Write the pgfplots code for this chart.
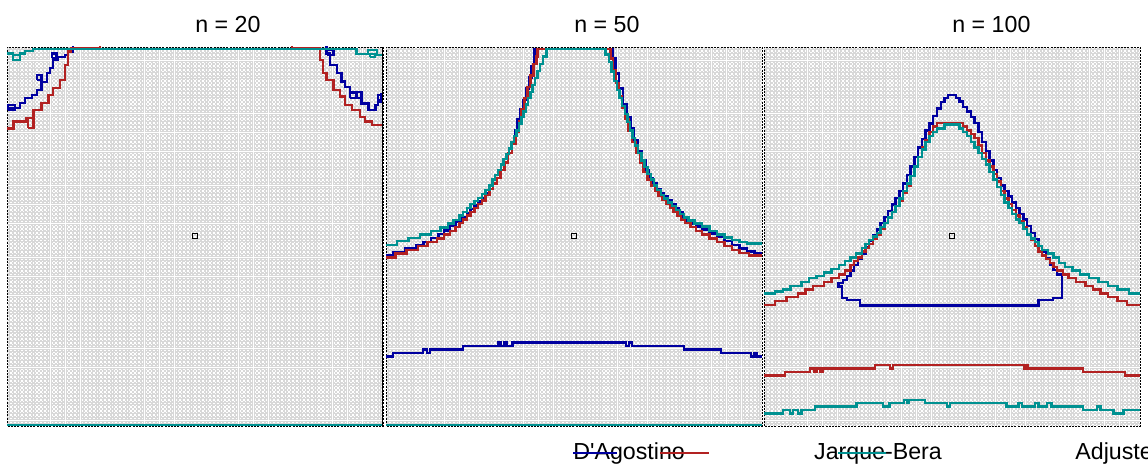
\documentclass[border=0pt]{standalone}
\usepackage{pgfplots}
\pgfplotsset{compat=1.18}
\usepackage{fontspec}
\setmainfont{Liberation Sans}

\definecolor{dagblue}{RGB}{0,0,160}
\definecolor{jbred}{RGB}{178,34,34}
\definecolor{ajbteal}{RGB}{0,145,145}
\definecolor{texgray}{RGB}{216,216,216}

\newcommand{\labfont}{\fontsize{11.6}{13.9}\selectfont}

\pgfplotsset{
  panel/.style={
    scale only axis, width=188pt, height=189.5pt,
    anchor=south west,
    xmin=0, xmax=100, ymin=0, ymax=100,
    % background texture: one small open square per grid cell
    xtick={0.35,1.35,...,99.35}, minor xtick={0.65,1.65,...,99.65},
    ytick={0.35,1.35,...,99.35}, minor ytick={0.65,1.65,...,99.65},
    xticklabels={}, yticklabels={},
    major tick length=0pt, minor tick length=0pt,
    tick style={draw=none},
    grid=both,
    major x grid style={texgray, line width=0.28pt, dash pattern=on 1.3265pt off 0.5685pt, dash phase=0.663pt},
    minor x grid style={texgray, line width=0.28pt, dash pattern=on 1.3265pt off 0.5685pt, dash phase=0.663pt},
    major y grid style={texgray, line width=0.28pt, dash pattern=on 1.316pt off 0.564pt, dash phase=0.658pt},
    minor y grid style={texgray, line width=0.28pt, dash pattern=on 1.316pt off 0.564pt, dash phase=0.658pt},
    axis line style={black, line width=0.45pt, dash pattern=on 1pt off 0.6pt},
    title style={at={(0.5,1)}, anchor=base west, inner sep=0pt, yshift=1pt, font=\labfont},
  },
  dag/.style={dagblue, line width=1.2pt, no marks},
  jb/.style={jbred, line width=1.2pt, no marks},
  ajb/.style={ajbteal, line width=1.2pt, no marks},
  ctr/.style={black, only marks, mark=square, mark size=1.25pt, line width=0.5pt},
}

\begin{document}
\begin{tikzpicture}
\useasboundingbox (0,0) rectangle (574pt,232.5pt);

% ---------------- n = 20 ----------------
\begin{axis}[panel, at={(3.5pt,19.5pt)}, title={n = 20}]
\addplot[dag, const plot] coordinates {(0,83.9) (3.5,85.2) (4.8,86.5) (6.6,87.3) (7.9,88.7) (9.2,90.8) (10.6,93.1) (11.4,94.5) (12.2,96.6) (13.6,97.4) (15.4,97.9) (16.2,98.7) (17.5,101)};
\addplot[dag, const plot] coordinates {(84,101) (85.0,98.3) (85.9,95.3) (87.7,93.1) (89.0,90.9) (89.9,89.5) (91.2,87.8) (93.0,86.5) (94.3,85.1) (96.1,83.4) (98.0,84.7) (98.7,86.0) (99.6,87.6) (100,87.6)};
\addplot[dag] coordinates {(11.9,97.1) (13.2,97.1) (13.2,98.3) (11.9,98.3) (11.9,97.1)};
\addplot[dag] coordinates {(7.9,91.3) (9.2,91.3) (9.2,92.6) (7.9,92.6) (7.9,91.3)};
\addplot[dag] coordinates {(0.3,83.4) (2.1,83.4) (2.1,84.7) (0.3,84.7) (0.3,83.4)};
\addplot[dag] coordinates {(85.0,97.9) (86.8,97.9) (86.8,99.2) (85.0,99.2) (85.0,97.9)};
\addplot[dag] coordinates {(91.2,86.5) (94.3,86.5) (94.3,88.2) (91.2,88.2) (91.2,86.5)};
\addplot[dag] coordinates {(98.7,85.6) (100,85.6) (100,87.3) (98.7,87.3) (98.7,85.6)};
\addplot[jb, const plot] coordinates {(0,78.5) (1.7,80.3) (5.2,81.2) (7.0,83.4) (9.2,85.2) (11.0,87.3) (12.3,89.2) (14.1,91.3) (15.4,95.3) (16.3,98.8) (17.0,99.7) (24.7,101)};
\addplot[jb, const plot] coordinates {(74,101) (75.8,99.7) (83.2,96.6) (84.1,93.1) (85.0,91.3) (86.8,88.7) (88.6,86.9) (89.9,84.7) (91.7,83.4) (93.9,81.6) (95.2,80.3) (97.0,79.4) (100,79.4)};
\addplot[jb] coordinates {(5.6,78.6) (7.0,78.6) (7.0,81.3) (5.6,81.3) (5.6,78.6)};
\addplot[ajb, const plot] coordinates {(0,98.3) (1.6,96.6) (3.5,98.3) (4.8,99.0) (6.9,99.4) (93.0,98.2) (96.0,99.2) (98.4,97.9) (100,97.9)};
\addplot[ajb] coordinates {(1.6,96.6) (3.5,96.6) (3.5,97.9) (1.6,97.9) (1.6,96.6)};
\addplot[ajb] coordinates {(96.5,97.3) (97.9,97.3) (97.9,98.2) (96.5,98.2) (96.5,97.3)};
\addplot[ajb] coordinates {(0,0.3) (100,0.3)};
\addplot[ctr] coordinates {(50,50)};
\draw[black, line width=0.5pt] (rel axis cs:1,0) -- (rel axis cs:1,1);
\end{axis}

% ---------------- n = 50 ----------------
\begin{axis}[panel, at={(193pt,19.5pt)}, title={n = 50}]
\addplot[dag, const plot] coordinates {
 (0,45.1) (2,45.8) (5,46.8) (8,47.8) (10,48.6) (12,49.6) (14,50.6) (15.5,51.6) (17,52.8) (18.5,54) (20,55)
 (21.5,56.2) (22.5,57.2) (23.5,58.2) (24.5,59.2) (25.5,60.2) (26.5,61.4) (27.5,62.5) (28.5,64) (29.5,65.5)
 (30.5,67.5) (31.5,69.5) (32.5,72) (33.5,75) (34.3,78) (35,81) (35.8,83.5) (36.5,86) (37.3,89) (38,92)
 (38.7,95) (39.3,97.5) (39.5,99.5)
 (60.3,97) (61,93) (62,89) (63,85) (64,81.5) (65,78.5) (66,75.5) (67,72.5) (68,70) (69,67.5) (70,65.5)
 (71,64) (72,62.5) (73,61.5) (74,60.5) (75,59.5) (76,58.5) (77,57.5) (78,56.3) (79,55.2) (80,54.2)
 (81,53.4) (82.5,52.6) (84,51.8) (86,50.8) (88,49.8) (90,48.8) (92,47.8) (94,46.8) (96,46) (98,45.6) (100,45.6)};
\addplot[dag, const plot] coordinates {
 (0,18.3) (1.9,19.3) (9.9,20.2) (10.9,19.3) (11.7,20.2) (20.5,21.1) (29.9,22.0) (30.6,21.1) (31.4,22.0)
 (32.0,21.1) (33.6,22.0) (63.8,21.1) (64.6,22.0) (65.4,21.1) (79.2,20.2) (89.1,19.3) (97.1,18.3)
 (98.0,19.3) (98.7,18.3) (100,18.3)};
\addplot[jb, const plot] coordinates {
 (0,44.5) (2.5,45.5) (5.5,46.5) (8.5,47.5) (11,48.5) (13.5,49.5) (15.5,50.5) (17,51.5) (18.5,52.5)
 (19.5,53.5) (20.5,54.5) (21.5,55.5) (22.5,56.5) (23.5,57.5) (24.5,58.5) (25.5,59.5) (26.5,61) (27.5,62.5)
 (28.5,64) (29.5,65.5) (30.5,67.5) (31.5,69.5) (32.5,72) (33.5,74.5) (34.5,77.5) (35.3,80.5) (36,83.5)
 (36.8,86.5) (37.6,89.5) (38.4,92.5) (39.2,95.5) (40,97.5) (40.3,99.5)
 (59.7,97) (60.4,94) (61.2,90.5) (62,87) (62.8,84) (63.6,81) (64.5,78) (65.5,75) (66.5,72) (67.5,69.5)
 (68.5,67) (69.5,65) (70.5,63.5) (71.5,62) (72.5,60.8) (73.5,59.6) (74.5,58.5) (75.5,57.5) (76.5,56.5)
 (77.5,55.5) (78.5,54.5) (79.5,53.5) (81,52.5) (82.5,51.5) (84,50.5) (86,49.5) (88,48.5) (90,47.5)
 (92,46.5) (94,45.7) (96.5,45) (100,45)};
\addplot[ajb, const plot] coordinates {
 (0,47.8) (3,48.8) (6,49.6) (9,50.5) (12,51.4) (14.5,52.4) (16.5,53.4) (18,54.4) (19.5,55.5) (20.5,56.5)
 (21.5,57.5) (22.5,58.5) (23.5,59.3) (24.5,60.2) (25.5,61.2) (26.5,62.2) (27.5,63.5) (28.3,65) (29,66.2)
 (29.8,67.5) (30.6,69) (31.3,70.5) (32,71.8) (32.7,73.2) (33.4,75) (34,76.5) (34.7,78) (35.3,79.8) (36,81.5)
 (36.6,83) (37.2,84.8) (37.8,86.5) (38.4,88.2) (39,90) (39.6,91.8) (40.3,93.7) (41,95.5) (41.7,97.5) (42.7,99.5)
 (58.4,98) (59.3,96) (60,93.5) (60.7,91) (61.4,88.7) (62.1,86.5) (62.8,84.5) (63.5,82.3) (64.2,80.2)
 (64.9,78) (65.6,76) (66.3,74) (67.1,72) (68,70) (68.8,68.3) (69.6,66.5) (70.4,65) (71.2,63.5) (72.1,62.2)
 (73.1,61) (74,60) (75,59) (76,58) (77.1,57) (78.2,56) (79.2,55) (80.5,54.2) (82,53.4) (84,52.6) (86,51.4)
 (88,50.5) (90,49.7) (92,49) (94,48.5) (96,48.1) (100,48)};
\addplot[ajb] coordinates {(0,0.3) (100,0.3)};
\addplot[ctr] coordinates {(50,50)};
\end{axis}

% ---------------- n = 100 ----------------
\begin{axis}[panel, at={(382pt,19.5pt)}, title={n = 100}]
\addplot[dag, const plot] coordinates {
 (20.2,37.7) (21,38.5) (22,39.5) (23,41) (24,42.5) (25,44) (26,45.5) (27,47.2) (28,48.8) (29,50.3) (30,51.8)
 (31,53.5) (32,55.2) (33,56.8) (34,58.4) (35,60.1) (36,62) (37,64) (38,66.2) (39,68.5) (40,71) (41,73.5)
 (42,75.8) (43,78) (44,79.8) (45,81.8) (46,83.8) (47,85.5) (48,86.5) (49,87.3) (51,86.5) (52,85.6) (53,84.2)
 (54,83) (55,81.5) (56,80) (57,77.5) (58,75) (59,72.5) (60,70) (61,67.5) (62,65.5) (63,63.5) (64,62)
 (65,60.5) (66,59) (67,57.5) (68,56) (69,54.5) (70,52.8) (71,51) (72,49.3) (73,47.5) (74,46) (75,44.3)
 (76,42.6) (77,41.2) (78,40) (79.2,39.5)};
\addplot[dag] coordinates {
 (79.2,39.5) (79.2,33.7) (76.9,33.7) (76.9,33.2) (73,33.2) (73,31.8) (25.5,31.8) (25.5,33.2) (22,33.2)
 (22,33.7) (20.7,33.7) (20.7,36.8) (19.8,36.8) (19.8,37.7) (20.2,37.7)};
\addplot[jb, const plot] coordinates {
 (0,32) (3,33) (6,34) (9,35) (11,36) (13,37) (16,38) (18,39) (20,40) (21.5,41) (23,42.5) (24,43.5)
 (25,44.5) (26,46) (27,47) (28,48) (29,49.5) (30,50.5) (31,52) (32,53.5) (33,55) (34,56.5) (35,58)
 (36,59.5) (37,61.5) (38,63.5) (39,66) (40,68.5) (41,71) (42,73.5) (43,75.5) (44,77.5) (45,79) (46,80)
 (53,79) (54,78) (55,77) (56,76) (57,74) (58,72) (59,70) (60,68.5) (61,66.5) (62,64.5) (63,62) (64,60)
 (65,58.5) (66,57) (67,55.5) (68,54) (69,52.5) (70,50.5) (71,49) (72,47.5) (73,46) (74,45) (75,44)
 (76,43) (77,42) (78,41) (79.5,40) (81,39) (83,38) (85.5,37) (87.5,36) (89.5,35) (91.5,34) (94,33)
 (96.5,32) (100,32)};
\addplot[jb, const plot] coordinates {
 (0,13.3) (5.6,14.2) (12.2,15.2) (13.3,14.2) (14.0,15.2) (15.0,14.2) (15.7,15.2) (29.5,16.1) (33.5,15.2)
 (34.3,16.1) (69.1,15.2) (69.6,16.1) (70.1,15.2) (84.9,14.2) (96.0,13.3) (100,13.3)};
\addplot[ajb, const plot] coordinates {
 (0,35) (3,35.5) (5,36) (7,37) (10,38) (12,39) (14,39.5) (16,40.5) (18,41.5) (20,42.5) (21.5,43.5)
 (23,44.5) (24.5,45.5) (26,47) (27,48) (28,49) (29,50) (30,51) (31,52.5) (32,53.5) (33,55) (34,56.5)
 (35,58) (36,60) (37,62) (38,64) (39,66) (40,68.5) (41,71) (42,73) (43,75) (44,76.5) (45,77.5) (46,78.5)
 (48,79.5) (52,78.5) (53,77.5) (54,76.5) (55,75) (56,73.5) (57,72) (58,70.5) (59,69) (60,67) (61,65)
 (62,63) (63,61) (64,59) (65,57.5) (66,56) (67,54.5) (68,53.5) (69,52) (70,50.5) (71,49.5) (72,48.5)
 (73,47.5) (74,46.5) (75.5,45.5) (77,44.5) (78.5,43) (80,42) (82,41) (84,40) (86.5,39) (89,38) (91.5,37)
 (94,36) (97,35) (100,35)};
\addplot[ajb, const plot] coordinates {
 (0,3.3) (5.1,4.2) (6.9,3.3) (7.7,4.2) (9.0,3.3) (10.0,4.2) (13.6,5.1) (24.6,6.0) (31.6,5.1) (33.4,6.0)
 (37.2,6.9) (38.0,6.0) (38.6,6.9) (42.8,6.0) (48.6,5.1) (49.5,6.0) (64.5,5.1) (67.7,6.0) (68.6,5.1)
 (72.1,6.0) (73.0,5.1) (75.2,6.0) (76.5,5.1) (84.9,4.2) (88.6,5.1) (89.5,4.2) (92.9,3.3) (95.6,4.2) (100,4.2)};
\addplot[ctr] coordinates {(50,50)};
\end{axis}

% ---------------- key ----------------
\node[anchor=base west, inner sep=0pt, font=\labfont] at (286.5pt,2.6pt) {D\textquotesingle Agostino};
\node[anchor=base west, inner sep=0pt, font=\labfont] at (406.9pt,2.6pt) {Jarque-Bera};
\node[anchor=base west, inner sep=0pt, font=\labfont] at (537.5pt,2.6pt) {Adjusted Jarque-Bera};
\draw[dagblue, line width=1.1pt] (286.5pt,5.8pt) -- (308.5pt,5.8pt);
\draw[jbred, line width=1.1pt] (330pt,5.8pt) -- (354.5pt,5.8pt);
\draw[ajbteal, line width=1.1pt] (419pt,5.8pt) -- (443pt,5.8pt);
\end{tikzpicture}
\end{document}
